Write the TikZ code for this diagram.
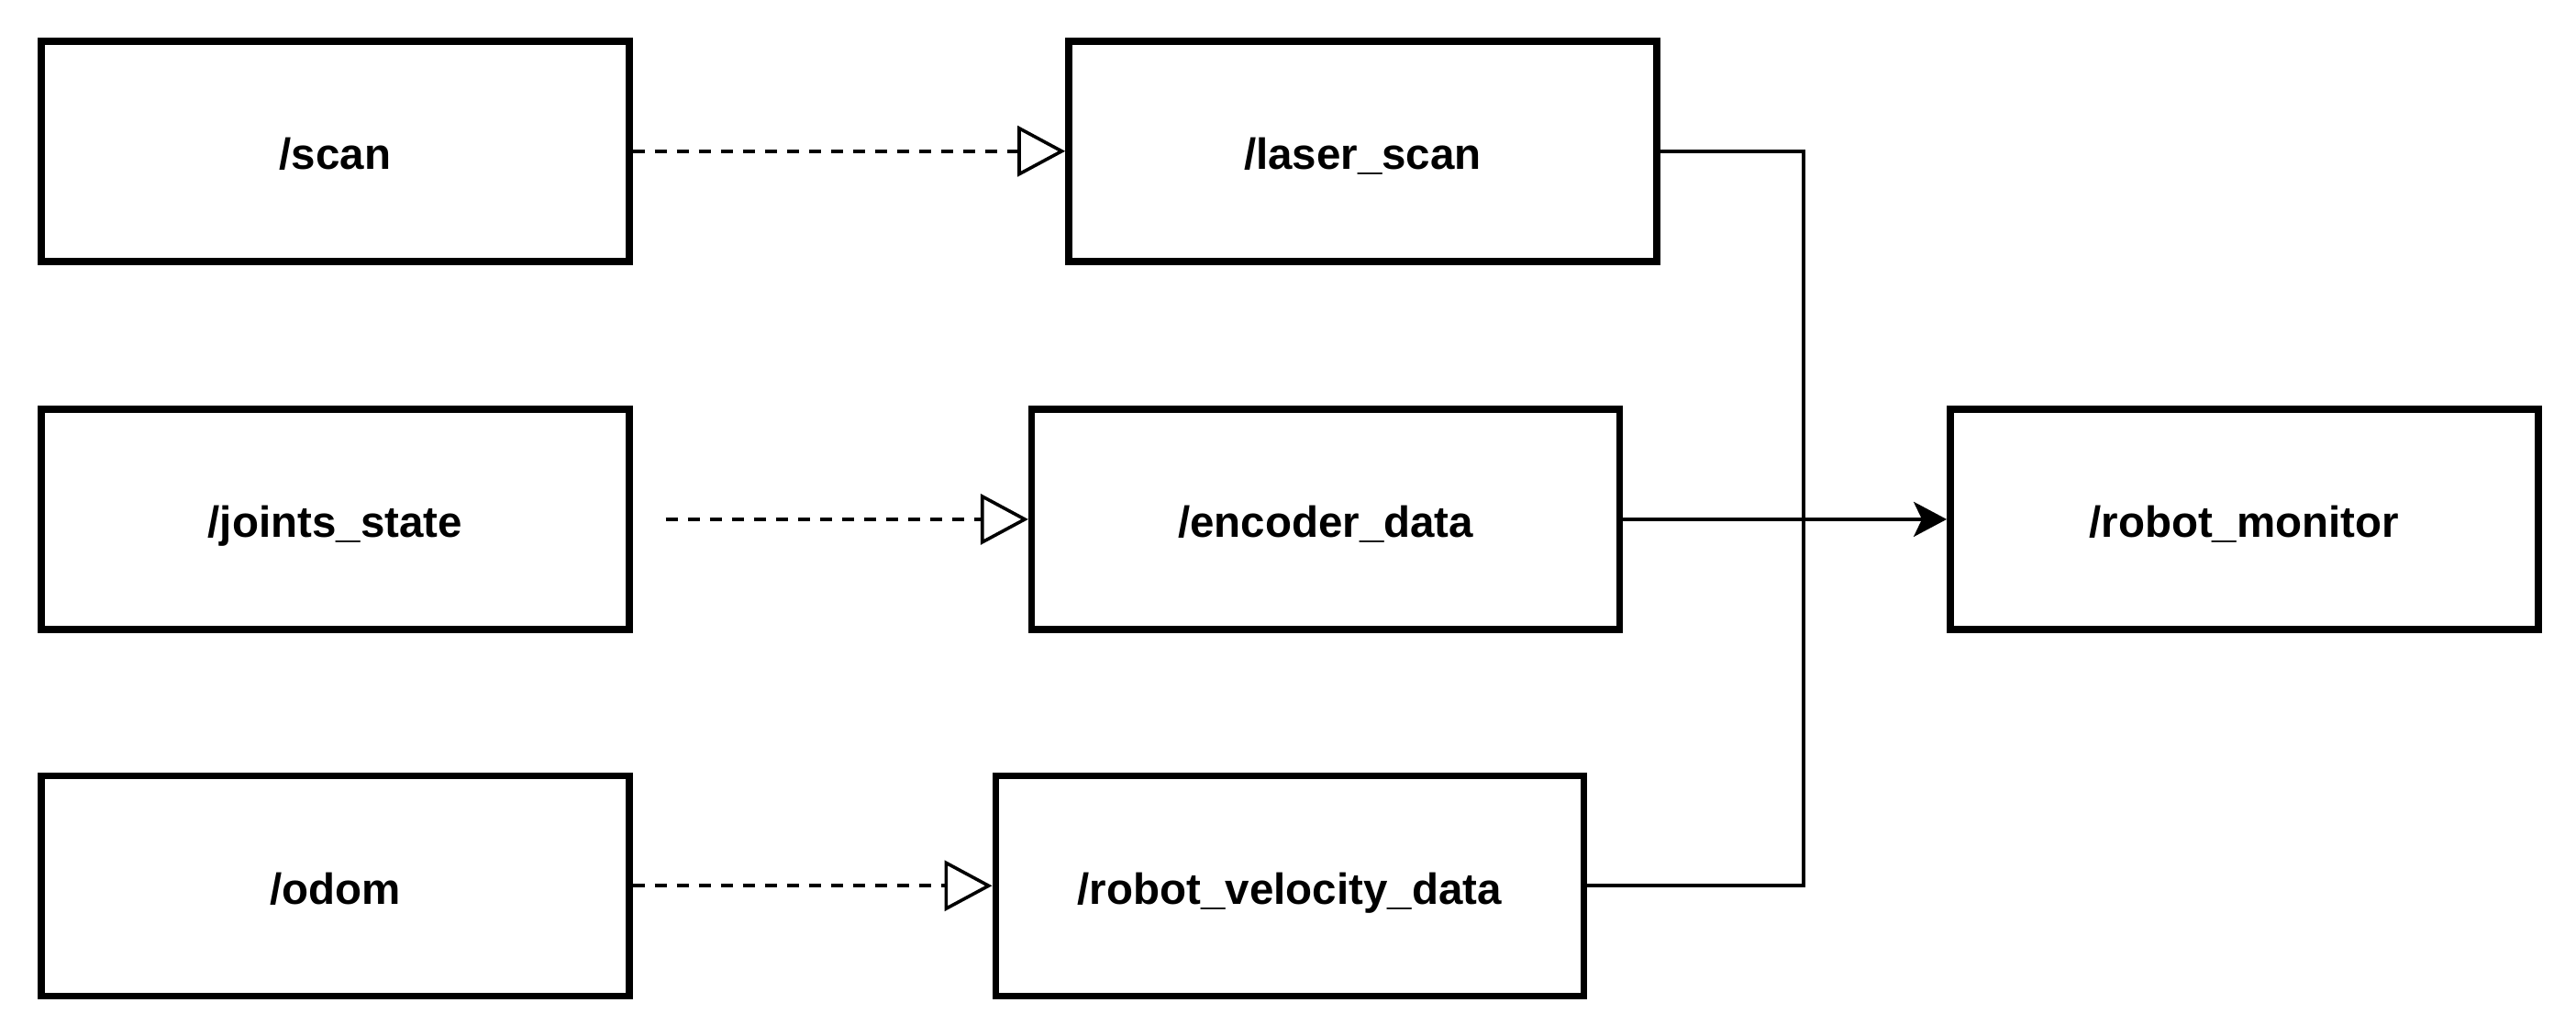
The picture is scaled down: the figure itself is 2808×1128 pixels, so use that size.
\documentclass[tikz,border=0pt]{standalone}
\usepackage{fontspec}
\setmainfont{Liberation Sans}
\usetikzlibrary{arrows.meta}
\tikzset{
  topic/.style={draw=black, line width=7.5pt, fill=white, rectangle,
    minimum width=641pt, minimum height=240pt, inner sep=0pt,
    text height=40pt, text depth=0pt,
    font=\fontsize{47.5}{57}\selectfont\bfseries},
  remap/.style={draw=black, line width=3.6pt, dash pattern=on 13pt off 11pt,
    -{Triangle[open, length=52pt, width=55pt, line width=3.6pt, fill=white]}},
  feed/.style={draw=black, line width=3.6pt},
  feedarrow/.style={feed, -{Stealth[length=36pt, width=38pt, inset=9pt]}}
}
\begin{document}
\begin{tikzpicture}[x=1pt, y=-1pt]
\useasboundingbox (0,0) rectangle (2808,1128);
\node[topic] (scan)   at (365.35,164.75) {/scan};
\node[topic] (laser)  at (1485.45,164.75) {/laser\_scan};
\node[topic] (joints) at (365.35,565.9) {/joints\_state};
\node[topic] (enc)    at (1445.15,565.9) {/encoder\_data};
\node[topic] (odom)   at (365.35,965.25) {/odom};
\node[topic] (vel)    at (1405.75,965.25) {/robot\_velocity\_data};
\node[topic] (mon)    at (2446.25,565.9) {/robot\_monitor};
\coordinate (jstart) at (725.5,565.9);
\coordinate (bend) at (1966,164.75);
\draw[remap] (scan.east) -- (laser.west);
\draw[remap] (jstart) -- (enc.west);
\draw[remap] (odom.east) -- (vel.west);
\draw[feed] (laser.east) -- (bend) |- (vel.east);
\draw[feedarrow] (enc.east) -- (mon.west);
\end{tikzpicture}
\end{document}
